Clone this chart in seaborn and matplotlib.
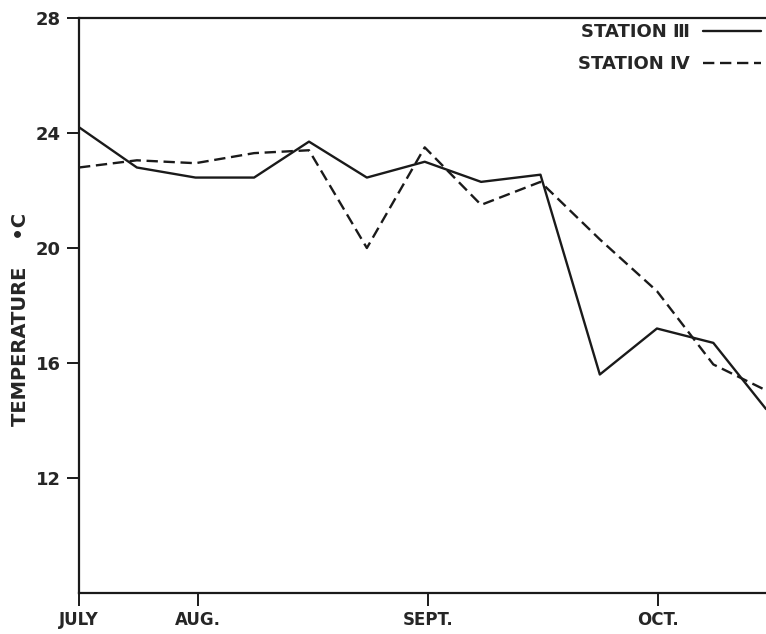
import pandas as pd
import matplotlib.pyplot as plt
import seaborn as sns

# sampling days (day 0 = axis start, labelled JULY)
days = [0, 7.8, 15.7, 23.6, 31, 38.8, 46.6, 54.2, 62.2, 70.2, 77.9, 85.5, 92.6]
station_3 = [24.2, 22.8, 22.45, 22.45, 23.7, 22.45, 23.0, 22.3, 22.55, 15.6, 17.2, 16.7, 14.4]
station_4 = [22.8, 23.05, 22.95, 23.3, 23.4, 20.0, 23.5, 21.5, 22.3, 20.3, 18.5, 15.95, 15.05]

month_pos = [0, 16, 47, 78]
month_labels = ["JULY", "AUG.", "SEPT.", "OCT."]
y_ticks = [12, 16, 20, 24, 28]
series_names = ["STATION \u2162", "STATION \u2163"]

df = pd.DataFrame({
    "day": days + days,
    "temp": station_3 + station_4,
    "station": [series_names[0]] * len(days) + [series_names[1]] * len(days),
})

sns.set_style("white")
plt.rcParams["font.family"] = ["DejaVu Sans"]

fig = plt.figure(figsize=(7.66, 6.34), dpi=100)
ax = fig.add_axes([79 / 766, 41 / 634, 1 - 79 / 766, 575 / 634])

sns.lineplot(data=df, x="day", y="temp", style="station", color="#1a1a1a",
             dashes={series_names[0]: "", series_names[1]: (4.8, 2.4)},
             linewidth=1.7, ax=ax, legend=True)

ax.set_xlim(0, 92.6)
ax.set_ylim(8, 28)
ax.set_xticks(month_pos)
ax.set_xticklabels(month_labels, fontsize=12, fontweight="bold")
ax.set_yticks(y_ticks)
ax.set_yticklabels([str(v) for v in y_ticks], fontsize=13, fontweight="bold")
ax.tick_params(axis="both", direction="out", length=9, width=1.4, color="#1a1a1a",
               left=True, bottom=True, pad=4)
ax.set_xlabel("")
ax.set_ylabel("TEMPERATURE    \u2022C", fontsize=14, fontweight="bold")
ax.yaxis.set_label_coords(-0.071, 0.475)

for side in ["left", "bottom", "top"]:
    ax.spines[side].set_linewidth(1.6)
    ax.spines[side].set_color("#1a1a1a")
ax.spines["right"].set_visible(False)

leg = ax.legend(loc="upper right", bbox_to_anchor=(1.0, 1.0), frameon=False,
                markerfirst=False, handlelength=3.2, handletextpad=0.7,
                labelspacing=0.75, borderaxespad=0.0, borderpad=0.3,
                prop={"size": 13, "weight": "bold"})

fig.savefig("out.png", dpi=100)
